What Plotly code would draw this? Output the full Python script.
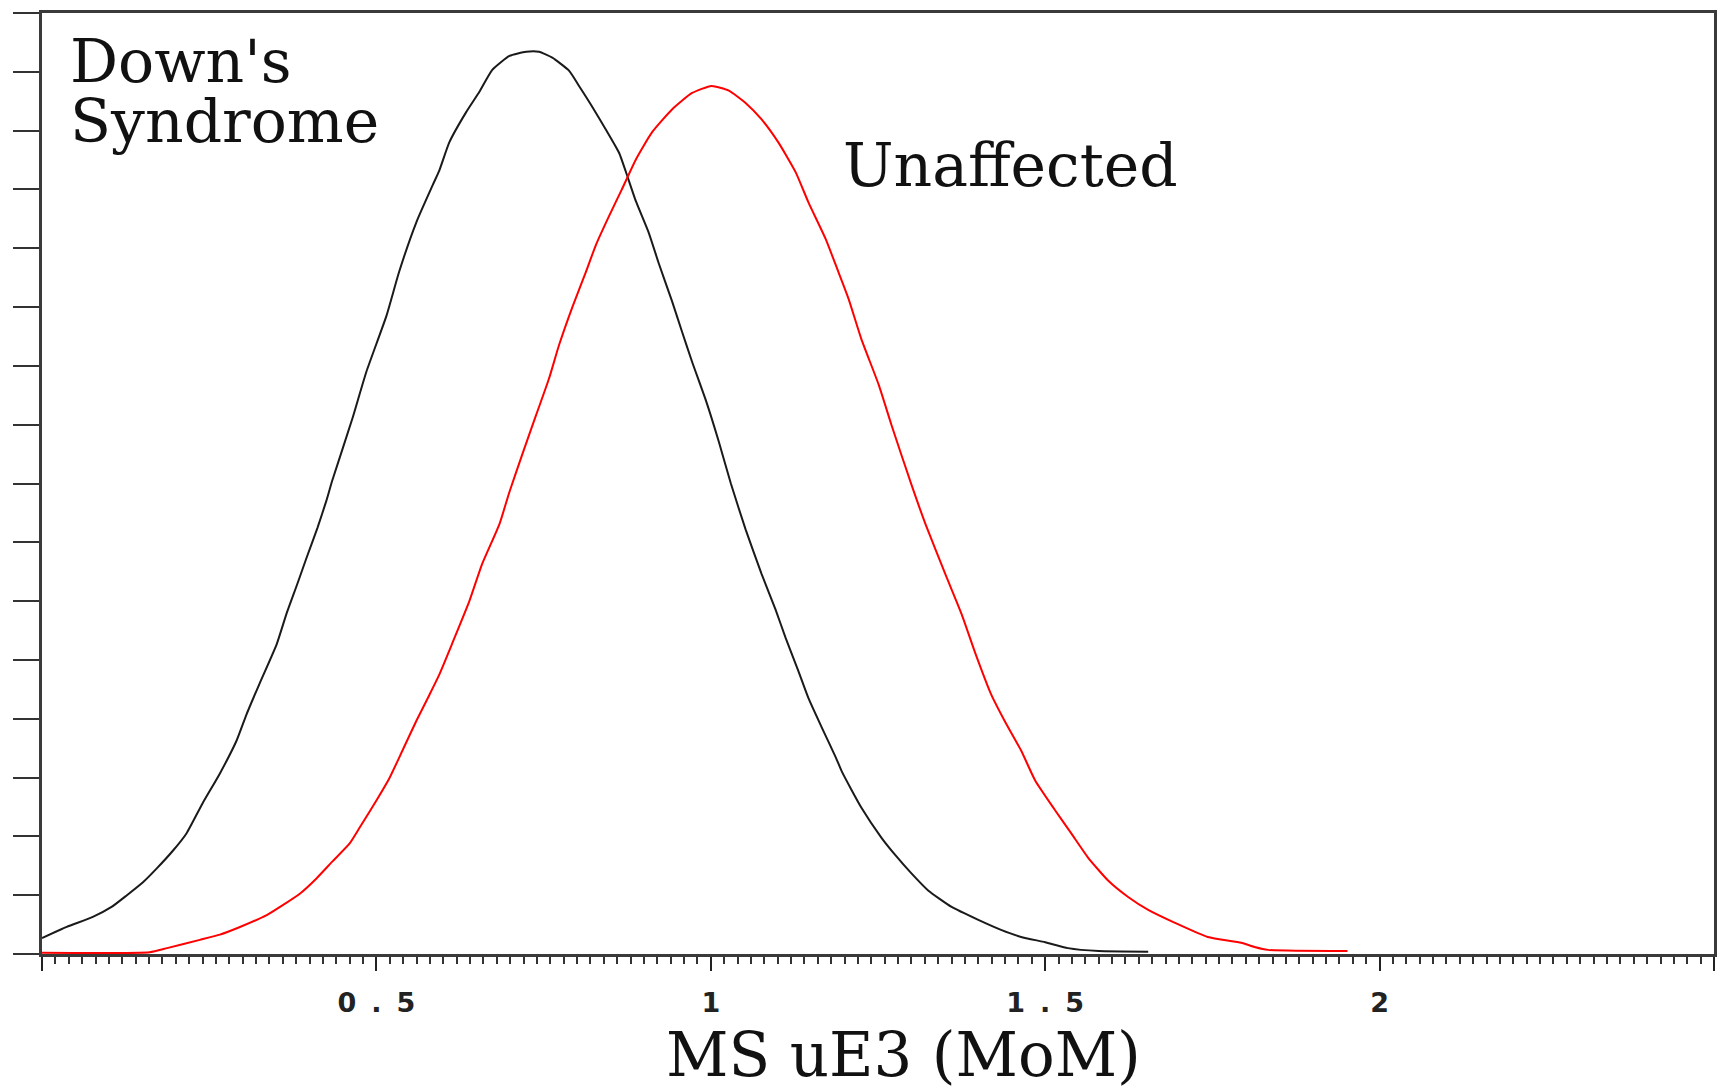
import plotly.graph_objects as go

# Down's syndrome curve (MoM, relative frequency)
downs_x = [0.0, 0.037, 0.076, 0.104, 0.127, 0.151, 0.172, 0.196, 0.216, 0.240, 0.266, 0.291,
           0.306, 0.325, 0.351, 0.366, 0.382, 0.396, 0.412, 0.425, 0.434, 0.464, 0.485, 0.515,
           0.534, 0.560, 0.584, 0.594, 0.609, 0.634, 0.654, 0.673, 0.699, 0.724, 0.743, 0.763,
           0.788, 0.803, 0.822, 0.843, 0.863, 0.873, 0.888, 0.907, 0.922, 0.942, 0.957, 0.972,
           0.993, 1.012, 1.030, 1.052, 1.076, 1.097, 1.112, 1.131, 1.146, 1.166, 1.187, 1.196,
           1.225, 1.255, 1.276, 1.300, 1.325, 1.360, 1.400, 1.434, 1.464, 1.500, 1.534, 1.580,
           1.654]
downs_y = [0.27, 0.46, 0.63, 0.80, 1.00, 1.22, 1.46, 1.76, 2.05, 2.56, 3.07, 3.63,
           4.08, 4.59, 5.27, 5.80, 6.30, 6.75, 7.25, 7.70, 8.05, 9.10, 9.90, 10.85,
           11.60, 12.45, 13.07, 13.32, 13.80, 14.31, 14.66, 15.03, 15.27, 15.34, 15.34, 15.24,
           15.02, 14.76, 14.42, 14.02, 13.62, 13.30, 12.80, 12.27, 11.75, 11.10, 10.58, 10.07,
           9.40, 8.71, 8.00, 7.22, 6.46, 5.85, 5.37, 4.81, 4.35, 3.85, 3.34, 3.10,
           2.49, 1.98, 1.68, 1.37, 1.08, 0.80, 0.58, 0.41, 0.29, 0.20, 0.10, 0.05,
           0.04]

# Unaffected curve
unaff_x = [0.0, 0.161, 0.187, 0.236, 0.266, 0.296, 0.336, 0.360, 0.385, 0.410, 0.434, 0.460,
           0.475, 0.500, 0.519, 0.539, 0.560, 0.579, 0.594, 0.613, 0.639, 0.658, 0.684, 0.699,
           0.718, 0.739, 0.758, 0.773, 0.793, 0.813, 0.828, 0.848, 0.867, 0.888, 0.912, 0.942,
           0.972, 1.001, 1.027, 1.052, 1.076, 1.101, 1.127, 1.146, 1.172, 1.191, 1.206, 1.225,
           1.251, 1.270, 1.300, 1.321, 1.351, 1.375, 1.396, 1.419, 1.440, 1.464, 1.485, 1.515,
           1.539, 1.564, 1.594, 1.624, 1.654, 1.694, 1.743, 1.793, 1.813, 1.833, 1.952]
unaff_y = [0.02, 0.03, 0.10, 0.24, 0.33, 0.46, 0.66, 0.83, 1.02, 1.28, 1.57, 1.88,
           2.15, 2.61, 2.98, 3.46, 3.97, 4.40, 4.75, 5.27, 6.00, 6.63, 7.31, 7.86,
           8.49, 9.17, 9.78, 10.35, 11.00, 11.59, 12.05, 12.55, 13.00, 13.51, 13.97, 14.36,
           14.64, 14.76, 14.68, 14.47, 14.19, 13.80, 13.29, 12.78, 12.15, 11.59, 11.14, 10.46,
           9.68, 9.00, 7.98, 7.31, 6.45, 5.78, 5.10, 4.42, 3.95, 3.46, 2.95, 2.44,
           2.05, 1.64, 1.25, 0.97, 0.75, 0.53, 0.29, 0.19, 0.12, 0.07, 0.05]

x_tickvals = [0, 0.5, 1, 1.5, 2, 2.5]
x_ticklabels = ["", "0.5", "1", "1.5", "2", ""]
y_tickvals = list(range(0, 17))


def spread(label):
    # widen the decimal labels like the reference's stretched lettering
    if "." in label:
        head, tail = label[:-1], label[-1]
        return "<span style='letter-spacing:15px'>" + head + "</span>" + tail
    return label


x_ticktext = [spread(t) for t in x_ticklabels]

serif = "DejaVu Serif, Liberation Serif, serif"

fig = go.Figure()
fig.add_trace(go.Scatter(x=downs_x, y=downs_y, mode="lines",
                         line=dict(color="#1a1a1a", width=2, shape="spline", smoothing=0.5),
                         hoverinfo="skip"))
fig.add_trace(go.Scatter(x=unaff_x, y=unaff_y, mode="lines",
                         line=dict(color="#ff0000", width=2, shape="spline", smoothing=0.5),
                         hoverinfo="skip"))

fig.update_layout(
    width=1721, height=1092,
    margin=dict(l=42, r=4, t=13, b=138),
    paper_bgcolor="white", plot_bgcolor="white",
    showlegend=False,
    xaxis=dict(
        range=[0, 2.5], tickmode="array", tickvals=x_tickvals, ticktext=x_ticktext,
        ticks="outside", ticklen=14, tickwidth=2, tickcolor="#222",
        showline=True, linecolor="#3a3a3a", linewidth=3, mirror=True,
        showgrid=False, zeroline=False,
        tickfont=dict(family="DejaVu Sans", size=27, color="#222", weight="bold"),
        ticklabelstandoff=9,
        minor=dict(tickmode="linear", tick0=0, dtick=0.02, ticks="outside",
                   ticklen=7, tickwidth=2, tickcolor="#333", showgrid=False),
    ),
    yaxis=dict(
        range=[0, 16], tickmode="array", tickvals=y_tickvals, showticklabels=False,
        ticks="outside", ticklen=26, tickwidth=2, tickcolor="#333",
        showline=True, linecolor="#3a3a3a", linewidth=3, mirror=True,
        showgrid=False, zeroline=False,
    ),
    annotations=[
        dict(text="Down's", xref="paper", yref="paper", x=0.0155, y=0.949,
             xanchor="left", yanchor="middle", showarrow=False,
             font=dict(family=serif, size=60, color="#111")),
        dict(text="Syndrome", xref="paper", yref="paper", x=0.0155, y=0.885,
             xanchor="left", yanchor="middle", showarrow=False,
             font=dict(family=serif, size=60, color="#111")),
        dict(text="Unaffected", xref="paper", yref="paper", x=0.4776, y=0.8385,
             xanchor="left", yanchor="middle", showarrow=False,
             font=dict(family=serif, size=60, color="#111")),
        dict(text="MS uE3 (MoM)", xref="paper", yref="paper", x=0.515, y=-0.1073,
             xanchor="center", yanchor="middle", showarrow=False,
             font=dict(family=serif, size=61, color="#111")),
    ],
)

fig.write_html("out.html",
               config={"displayModeBar": False},
               post_script="document.body.style.margin='0';document.body.style.overflow='hidden';")
